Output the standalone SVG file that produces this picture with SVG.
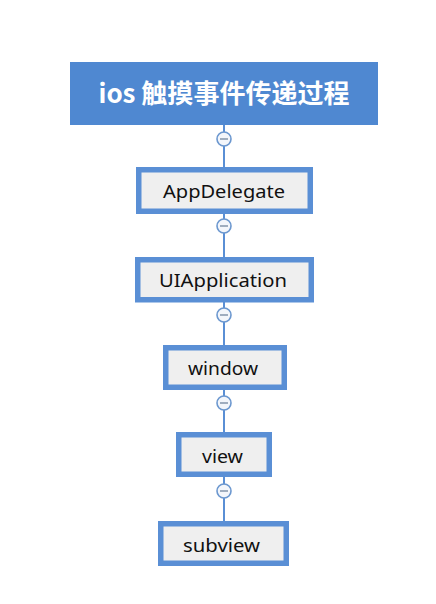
<svg xmlns="http://www.w3.org/2000/svg" width="436" height="604" viewBox="0 0 436 604">
<style>
.box{fill:#efefef;stroke:#5a8fd5;stroke-width:5.5}
.lbl{font-family:"Noto Sans","Liberation Sans",sans-serif;font-size:18.5px;fill:#111;text-anchor:middle}
.title{font-family:"Noto Sans CJK SC","Noto Sans",sans-serif;font-size:26px;font-weight:bold;fill:#fff;text-anchor:middle}
.conn{stroke:#5a8fd5;stroke-width:2;fill:none}
.tog{fill:#f3f6fb;stroke:#6b97cf;stroke-width:1.6}
.minus{stroke:#8a9bb0;stroke-width:1.6}
</style>
<rect width="436" height="604" fill="#ffffff"/>
<g id="connectors">
<line class="conn" x1="224" y1="125" x2="224" y2="168"/>
<line class="conn" x1="224" y1="213" x2="224" y2="258"/>
<line class="conn" x1="224" y1="302" x2="224" y2="346"/>
<line class="conn" x1="224" y1="390" x2="224" y2="433"/>
<line class="conn" x1="224" y1="477" x2="224" y2="522"/>
<g id="toggles">
<circle class="tog" cx="224" cy="139" r="7"/><line class="minus" x1="220" y1="139" x2="228" y2="139"/>
<circle class="tog" cx="224" cy="226" r="7"/><line class="minus" x1="220" y1="226" x2="228" y2="226"/>
<circle class="tog" cx="224" cy="315" r="7"/><line class="minus" x1="220" y1="315" x2="228" y2="315"/>
<circle class="tog" cx="224" cy="403" r="7"/><line class="minus" x1="220" y1="403" x2="228" y2="403"/>
<circle class="tog" cx="224" cy="491" r="7"/><line class="minus" x1="220" y1="491" x2="228" y2="491"/>
</g>
</g>
<g id="root">
<rect x="70" y="62" width="308" height="63" fill="#4f88d1"/>
<text class="title" x="224" y="103" textLength="251">ios 触摸事件传递过程</text>
</g>
<g id="appdelegate">
<rect class="box" x="138.75" y="169.75" width="171.5" height="41.5"/>
<text class="lbl" x="224" y="198" textLength="122" lengthAdjust="spacingAndGlyphs">AppDelegate</text>
</g>
<g id="uiapplication">
<rect class="box" x="137.75" y="259.75" width="173.5" height="40"/>
<text class="lbl" x="223" y="287" textLength="128" lengthAdjust="spacingAndGlyphs">UIApplication</text>
</g>
<g id="window">
<rect class="box" x="165.75" y="347.75" width="118.5" height="39.5"/>
<text class="lbl" x="223" y="375" textLength="70" lengthAdjust="spacingAndGlyphs">window</text>
</g>
<g id="view">
<rect class="box" x="178.75" y="434.75" width="90.5" height="39.5"/>
<text class="lbl" x="222.5" y="463" textLength="41" lengthAdjust="spacingAndGlyphs">view</text>
</g>
<g id="subview">
<rect class="box" x="160.75" y="523.75" width="125.5" height="39.5"/>
<text class="lbl" x="221.5" y="552" textLength="77" lengthAdjust="spacingAndGlyphs">subview</text>
</g>
</svg>
